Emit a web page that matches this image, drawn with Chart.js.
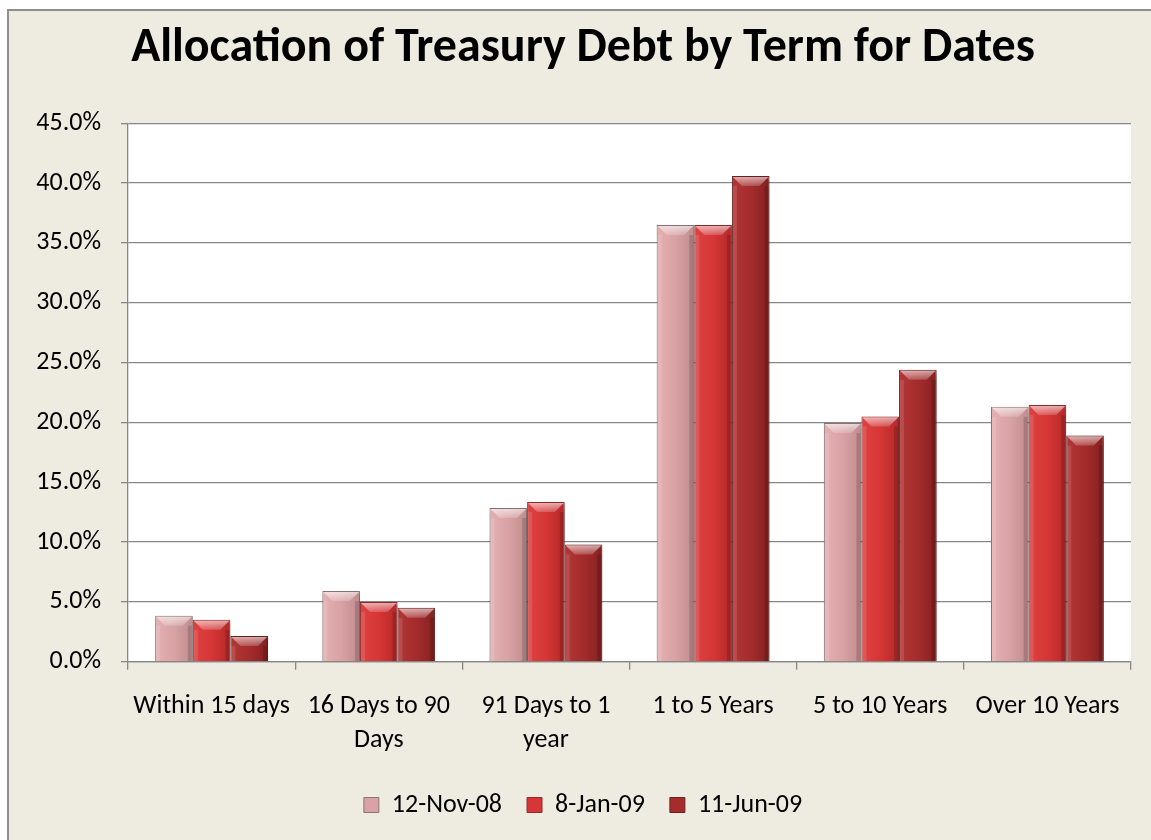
<!DOCTYPE html>
<html>
<head>
<meta charset="utf-8">
<script src="https://cdn.jsdelivr.net/npm/chart.js@4.4.0/dist/chart.umd.min.js"></script>
<style>
  body { margin: 0; background: #fff; width: 1151px; height: 840px; overflow: hidden; }
  #box { position: absolute; left: 7px; top: 9px; width: 1200px; height: 900px; border: 2px solid #8e8e8e; background: #EEECE1; }
  #cv { position: absolute; left: 0; top: 0; }
</style>
</head>
<body>
<div id="box"><canvas id="cv" width="1142" height="829"></canvas></div>
<script>
// data
var categories = ['Within 15 days', ['16 Days to 90', 'Days'], ['91 Days to 1', 'year'], '1 to 5 Years', '5 to 10 Years', 'Over 10 Years'];
var seriesNames = ['12-Nov-08', '8-Jan-09', '11-Jun-09'];
var nov08 = [3.85, 5.9, 12.85, 36.5, 19.95, 21.3];
var jan09 = [3.5, 5.0, 13.35, 36.5, 20.5, 21.45];
var jun09 = [2.15, 4.5, 9.8, 40.6, 24.4, 18.9];

var baseColors = ['#D9A2A4', '#D63636', '#A52C2C'];
var gradStops = [
    ['#E4B1B3', '#D9A2A4', '#C08C8D'],
    ['#DE4242', '#D63636', '#B42828'],
    ['#B23636', '#A52C2C', '#842020']
];
var edgeColors = ['#8C7576', '#8E2C2C', '#6A2020'];
var fontFam = 'Carlito, Calibri, "Open Sans", sans-serif';
var gridCol = '#878787';

var makeDs = function (i, vals) {
    return {
        label: seriesNames[i],
        data: vals,
        backgroundColor: function () { return baseColors[i]; },
        borderColor: edgeColors[i],
        borderWidth: 1,
        categoryPercentage: 0.675,
        barPercentage: 1.0
    };
};

// white plot area on the beige chart background
var plotBg = {
    id: 'plotBg',
    beforeDraw: function (chart) {
        var a = chart.chartArea, ctx = chart.ctx;
        ctx.save();
        ctx.fillStyle = '#ffffff';
        ctx.fillRect(a.left, a.top, a.right - a.left, a.bottom - a.top);
        ctx.restore();
    }
};

// excel-ish bevel look: gradient per bar, shadow, light top edge
var bevelPlugin = {
    id: 'bevel',
    beforeDatasetsDraw: function (chart) {
        var ctx = chart.ctx;
        chart.data.datasets.forEach(function (ds, i) {
            chart.getDatasetMeta(i).data.forEach(function (bar) {
                var x0 = bar.x - bar.width / 2, x1 = bar.x + bar.width / 2;
                var g = ctx.createLinearGradient(x0, 0, x1, 0);
                g.addColorStop(0, gradStops[i][0]);
                g.addColorStop(0.5, gradStops[i][1]);
                g.addColorStop(1, gradStops[i][2]);
                bar.options.backgroundColor = g;
            });
        });
        ctx.save();
        ctx.shadowColor = 'rgba(0,0,0,0.3)';
        ctx.shadowBlur = 5;
        ctx.shadowOffsetX = 2;
        ctx.shadowOffsetY = 2;
    },
    afterDatasetsDraw: function (chart) {
        var ctx = chart.ctx;
        ctx.restore();
        chart.data.datasets.forEach(function (ds, i) {
            chart.getDatasetMeta(i).data.forEach(function (bar) {
                var x0 = bar.x - bar.width / 2 + 1, x1 = bar.x + bar.width / 2 - 1;
                var top = bar.y + 1, bot = bar.base;
                var b = Math.min(9, (bot - top) / 2);
                var s = Math.min(4, b);
                ctx.save();
                var tg = ctx.createLinearGradient(0, top, 0, top + b);
                tg.addColorStop(0, 'rgba(255,255,255,0.6)');
                tg.addColorStop(1, 'rgba(255,255,255,0.18)');
                ctx.fillStyle = tg;
                ctx.beginPath();
                ctx.moveTo(x0, top); ctx.lineTo(x1, top);
                ctx.lineTo(x1 - b, top + b); ctx.lineTo(x0 + b, top + b);
                ctx.closePath(); ctx.fill();
                ctx.fillStyle = 'rgba(255,255,255,0.12)';
                ctx.fillRect(x0, top + b, s, bot - top - b);
                ctx.fillStyle = 'rgba(0,0,0,0.15)';
                ctx.fillRect(x1 - s, top + b, s, bot - top - b);
                ctx.restore();
            });
        });
    }
};

var myChart = new Chart(document.getElementById('cv'), {
    type: 'bar',
    data: {
        labels: categories,
        datasets: [makeDs(0, nov08), makeDs(1, jan09), makeDs(2, jun09)]
    },
    options: {
        responsive: false,
        animation: false,
        layout: { padding: { left: 26, right: 20, top: 0, bottom: 12 } },
        plugins: {
            title: {
                display: true,
                text: 'Allocation of Treasury Debt by Term for Dates',
                color: '#000',
                font: { family: fontFam, size: 48, weight: 'bold', lineHeight: 1.2 },
                padding: { top: 9, bottom: 45.7 }
            },
            legend: {
                position: 'bottom',
                labels: {
                    color: '#000',
                    font: { family: fontFam, size: 26 },
                    boxWidth: 15,
                    boxHeight: 15,
                    padding: 25
                }
            },
            tooltip: { enabled: false }
        },
        scales: {
            x: {
                grid: { offset: true, drawOnChartArea: false, color: gridCol, lineWidth: 1.3, tickLength: 8 },
                border: { color: gridCol, width: 1.3 },
                ticks: {
                    color: '#000',
                    font: { family: fontFam, size: 26, lineHeight: 1.3 },
                    maxRotation: 0,
                    autoSkip: false,
                    padding: 20
                },
                afterFit: function (s) { s.height = 105.3; }
            },
            y: {
                min: 0,
                max: 45,
                ticks: {
                    stepSize: 5,
                    color: '#000',
                    font: { family: fontFam, size: 26 },
                    padding: 20,
                    callback: function (v) { return v.toFixed(1) + '%'; }
                },
                grid: { color: gridCol, lineWidth: 1.3, tickLength: 7 },
                border: { color: gridCol, width: 1.3 },
                afterFit: function (s) { s.width = 93; }
            }
        }
    },
    plugins: [plotBg, bevelPlugin]
});
</script>
</body>
</html>
